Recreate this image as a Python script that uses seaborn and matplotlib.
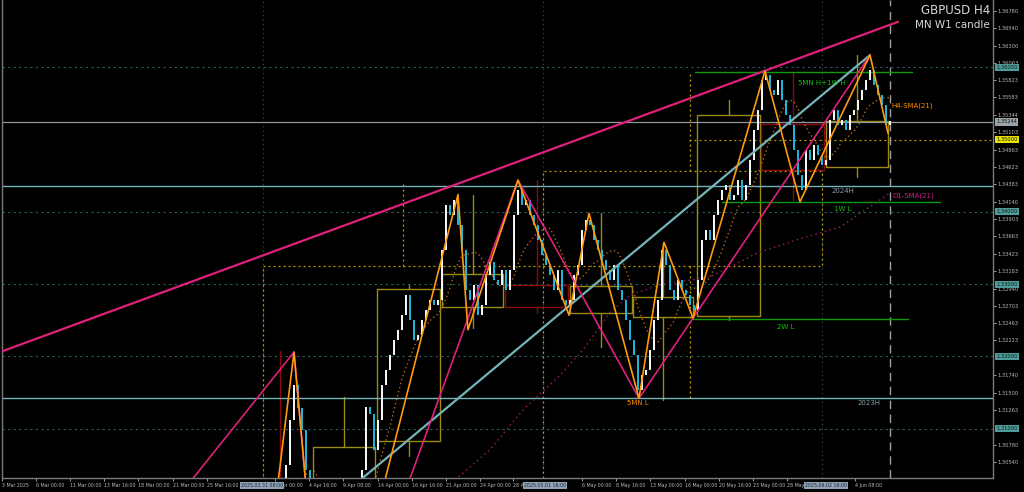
import numpy as np
import pandas as pd
import matplotlib
matplotlib.use('Agg')
import matplotlib.pyplot as plt
import matplotlib.transforms as mtransforms
import seaborn as sns

# ---------------- values ----------------
# x unit = one candle slot (2 H4 bars), price on y
first_slot = 67
first_open = 1.2920
closes = [
    1.2930, 1.2915, 1.2940, 1.2990, 1.3050, 1.3112, 1.3161, 1.3129, 1.3098, 1.3043,
    1.2960, 1.2930, 1.2860, 1.2790, 1.2820, 1.2760, 1.2850, 1.2900, 1.2950, 1.2990,
    1.3010, 1.2990, 1.3020, 1.3043, 1.3130, 1.3120, 1.3071, 1.3112, 1.3161, 1.3181,
    1.3202, 1.3223, 1.3237, 1.3257, 1.3285, 1.3250, 1.3223, 1.3230, 1.3250, 1.3264,
    1.3278, 1.3271, 1.3278, 1.3347, 1.3410, 1.3396, 1.3417, 1.3382, 1.3347, 1.3292,
    1.3278, 1.3299, 1.3257, 1.3271, 1.3313, 1.3331, 1.3306, 1.3299, 1.3320, 1.3292,
    1.3320, 1.3396, 1.3430, 1.3410, 1.3417, 1.3396, 1.3382, 1.3361, 1.3340, 1.3327,
    1.3313, 1.3292, 1.3320, 1.3278, 1.3271, 1.3278, 1.3313, 1.3327, 1.3375, 1.3389,
    1.3382, 1.3361, 1.3347, 1.3334, 1.3320, 1.3306, 1.3327, 1.3292, 1.3278, 1.3250,
    1.3223, 1.3202, 1.3154, 1.3174, 1.3181, 1.3209, 1.3250, 1.3278, 1.3347, 1.3327,
    1.3292, 1.3278, 1.3306, 1.3292, 1.3285, 1.3271, 1.3264, 1.3306, 1.3361, 1.3375,
    1.3361, 1.3396, 1.3417, 1.3430, 1.3437, 1.3417, 1.3424, 1.3444, 1.3417, 1.3437,
    1.3472, 1.3513, 1.3541, 1.3583, 1.3590, 1.3569, 1.3562, 1.3583, 1.3555, 1.3534,
    1.3520, 1.3486, 1.3451, 1.3430, 1.3486, 1.3472, 1.3493, 1.3479, 1.3465, 1.3472,
    1.3527, 1.3541, 1.3520, 1.3527, 1.3513, 1.3534, 1.3541, 1.3555, 1.3569, 1.3583,
    1.3596, 1.3576, 1.3562, 1.3548, 1.3520, 1.3526,
]

# zigzag pivots (slot, price)
zz_small_x = [66, 73, 81, 114, 116.5, 129, 141.75, 146.75, 159.25, 165.5, 172.75, 190.75, 199.5, 217, 221.5]
zz_small_y = [1.2890, 1.3206, 1.2710, 1.3424, 1.3237, 1.3444, 1.3257, 1.3398, 1.3142, 1.3358, 1.3253, 1.3595, 1.3414, 1.3617, 1.3509]
zz_big_x = [23, 73, 81, 129, 159.25, 217]
zz_big_y = [1.2860, 1.3206, 1.2710, 1.3444, 1.3142, 1.3617]

# trend lines
upper_tl_x = [-0.5, 224]
upper_tl_y = [1.3206, 1.3663]
channel_x = [85, 217]
channel_y = [1.3008, 1.3617]

# D1 SMA(21) as seen on the chart
d1_sma_x = [113.25, 122, 130.25, 139.5, 145.25, 152, 157, 164.5, 177, 188.75, 200.75, 209.5, 222]
d1_sma_y = [1.3029, 1.3071, 1.3126, 1.3174, 1.3209, 1.3261, 1.3285, 1.3299, 1.3310, 1.3343, 1.3365, 1.3379, 1.3426]

# weekly candles
wk_left = [61.75, 77.75, 93.75, 110, 125.75, 142, 157.75, 173.75, 189.75, 206]
wk_right = [77.25, 93.25, 109.5, 125.25, 141.5, 157.5, 172.75, 189.5, 205.5, 221.5]
wk_open = [1.2925, 1.2895, 1.3083, 1.3268, 1.3299, 1.3260, 1.3255, 1.3256, 1.3522, 1.3462]
wk_close = [1.2895, 1.3075, 1.3293, 1.3314, 1.3268, 1.3298, 1.3282, 1.3534, 1.3458, 1.3526]
wk_high = [1.3207, 1.3144, 1.3299, 1.3423, 1.3444, 1.3398, 1.3357, 1.3555, 1.3592, 1.3617]
wk_low = [1.2860, 1.2710, 1.3062, 1.3240, 1.3260, 1.3213, 1.3140, 1.3250, 1.3417, 1.3448]

# monthly candles
mn_left = [65.25, 135.25]
mn_right = [135.25, 205]
mn_open = [1.2915, 1.3325]
mn_close = [1.3325, 1.3457]
mn_high = [1.3443, 1.3595]
mn_low = [1.2710, 1.3142]
mn_wick = [100.25, 172]

# levels
round_levels = [1.36, 1.34, 1.33, 1.32, 1.31]
year_highs = [1.3436, 1.3142]
bid = 1.35244
level_135 = 1.3500
level_135_from = 171.75
month_seps = [65.25, 135.25, 205]
now_slot = 222

# short level segments: (start, end, price)
seg_start = [173.25, 180, 172.75]
seg_end = [227.5, 234.5, 226.5]
seg_price = [1.3594, 1.3414, 1.3252]

# text labels
lbl_text = ['5MN H+1W H', '1W L', '2W L', '2024H', '2023H', '5MN L', 'H4-SMA(21)', 'D1-SMA(21)']
lbl_x = [205, 210.25, 196, 210.25, 216.75, 159, 222.25, 222.5]
lbl_y = [1.3578, 1.3404, 1.3241, 1.3429, 1.3136, 1.3135, 1.3547, 1.3423]

# axis ticks
price_ticks = [1.36780, 1.36540, 1.36300, 1.36063, 1.35823, 1.35583, 1.35344, 1.35103,
               1.34863, 1.34623, 1.34383, 1.34140, 1.33903, 1.33663, 1.33423, 1.33183,
               1.32940, 1.32703, 1.32463, 1.32223, 1.31740, 1.31500, 1.31263, 1.30780, 1.30540]
date_ticks = [0, 8.5, 17, 25.5, 34, 42.75, 51.25, 68.25, 76.75, 85.25, 94, 102.5, 111, 119.5,
              127.75, 145, 153.5, 162, 170.75, 179.25, 187.75, 196.25, 213.25]
date_labels = ['3 Mar 2025', '6 Mar 00:00', '11 Mar 00:00', '13 Mar 16:00', '18 Mar 00:00',
               '21 Mar 00:00', '25 Mar 16:00', '1 Apr 00:00', '4 Apr 16:00', '9 Apr 08:00',
               '14 Apr 00:00', '16 Apr 16:00', '21 Apr 00:00', '24 Apr 00:00', '28 Apr 16:00',
               '6 May 00:00', '8 May 16:00', '13 May 00:00', '16 May 00:00', '20 May 16:00',
               '23 May 00:00', '28 May 08:00', '4 Jun 08:00']
date_marks = [59.75, 130.5, 200.75]
date_mark_text = ['2025.03.31 08:00', '2025.05.01 16:00', '2025.06.02 16:00']
price_marks = [1.36000, 1.35244, 1.35000, 1.34000, 1.33000, 1.32000, 1.31000]
price_mark_bg = ['#4f9a9a', '#9aa4a8', '#e8e000', '#4f9a9a', '#4f9a9a', '#4f9a9a', '#4f9a9a']

# ---------------- drawing ----------------
sns.set_theme(style='dark', rc={'axes.facecolor': 'black', 'figure.facecolor': 'black',
                                'axes.edgecolor': '#7a7a7a', 'axes.grid': False})
plt.rcParams['font.family'] = ['DejaVu Sans']

fig = plt.figure(figsize=(10.24, 4.92), dpi=100)
ax = fig.add_axes([2 / 1024, 14 / 492, 991 / 1024, 478 / 492])
ax.set_facecolor('black')
ax.set_xlim(0, 247.75)
ax.set_ylim(1.30318, 1.36932)

OLIVE = '#9c8a12'
DRED = '#8b0a0a'
GOLD = '#c8a400'
TEAL = '#74b4b8'
DOT = (0, (1.5, 2.5))

# round number levels and month separators
for lv in round_levels:
    ax.axhline(lv, color='#2f5d60', lw=0.8, ls=(0, (2, 3)), zorder=1)
for s in month_seps:
    ax.axvline(s, color='#3a5060', lw=0.8, ls=(0, (1, 3)), zorder=1)

# monthly candles (dotted)
for l, r, o, c, h, lo, w in zip(mn_left, mn_right, mn_open, mn_close, mn_high, mn_low, mn_wick):
    top, bot = max(o, c), min(o, c)
    ax.plot([l, r, r, l, l], [bot, bot, top, top, bot], color=GOLD, lw=0.9, ls=DOT, zorder=2)
    ax.plot([w, w], [top, h], color=GOLD, lw=0.9, ls=DOT, zorder=2)
    ax.plot([w, w], [bot, lo], color=GOLD, lw=0.9, ls=DOT, zorder=2)
ax.plot([level_135_from, 247.75], [level_135, level_135], color=GOLD, lw=0.9, ls=DOT, zorder=2)

# weekly candles
for l, r, o, c, h, lo in zip(wk_left, wk_right, wk_open, wk_close, wk_high, wk_low):
    col = OLIVE if c >= o else DRED
    top, bot = max(o, c), min(o, c)
    m = (l + r) / 2
    ax.plot([l, r, r, l, l], [bot, bot, top, top, bot], color=col, lw=1.0, zorder=2)
    ax.plot([m, m], [top, h], color=col, lw=1.0, zorder=2)
    ax.plot([m, m], [bot, lo], color=col, lw=1.0, zorder=2)

# year highs, bid and current bar marker
for yh in year_highs:
    ax.axhline(yh, color=TEAL, lw=1.0, zorder=2)
ax.axhline(bid, color='#8e9a9e', lw=0.9, zorder=2)
ax.axvline(now_slot, color='#a0a0a0', lw=1.0, ls=(0, (6, 4)), zorder=2)

for s, e, p in zip(seg_start, seg_end, seg_price):
    ax.plot([s, e], [p, p], color='#0a9a0a', lw=1.0, zorder=2)

# candles
df = pd.DataFrame({'slot': np.arange(first_slot, first_slot + len(closes)), 'close': closes})
df['open'] = df['close'].shift(1).fillna(first_open)
df['bottom'] = df[['open', 'close']].min(axis=1)
df['height'] = (df['close'] - df['open']).abs().clip(lower=0.00012)
df['color'] = np.where(df['close'] >= df['open'], '#f4f4f4', '#1cb4d8')
df['sma'] = df['close'].rolling(10).mean()

ax.plot(df['slot'], df['sma'], color='#b5661a', lw=1.0, ls=(0, (1, 2)), zorder=3)
ax.plot(d1_sma_x, d1_sma_y, color='#a0206a', lw=1.0, ls=(0, (1, 2.5)), zorder=3)

ax.bar(df['slot'], df['height'], bottom=df['bottom'], width=0.6, color=df['color'],
       edgecolor='none', zorder=4)

# trend lines and zigzags
sns.lineplot(x=channel_x, y=channel_y, ax=ax, color=TEAL, lw=1.6, zorder=5)
sns.lineplot(x=upper_tl_x, y=upper_tl_y, ax=ax, color='#e0207a', lw=1.6, zorder=5)
sns.lineplot(x=zz_big_x, y=zz_big_y, ax=ax, color='#e0207a', lw=1.2, sort=False, zorder=5)
sns.lineplot(x=zz_small_x, y=zz_small_y, ax=ax, color='#ff9a10', lw=1.2, sort=False, zorder=6)

# labels
lbl_col = ['#10c010', '#10c010', '#10c010', '#8aa0a8', '#8aa0a8', '#ff8c00', '#ff8c00', '#d0208a']
for t, x, y, c in zip(lbl_text, lbl_x, lbl_y, lbl_col):
    ha = 'left' if 'SMA' in t else 'center'
    ax.text(x, y, t, color=c, fontsize=5.0, ha=ha, va='center', zorder=8)

fig.text(990 / 1024, 1 - 11 / 492, 'GBPUSD H4', color='#d8d8d8', fontsize=8.5, ha='right', va='center')
fig.text(990 / 1024, 1 - 25 / 492, 'MN W1 candle', color='#d8d8d8', fontsize=7.5, ha='right', va='center')

# axes
ax.yaxis.tick_right()
ax.set_yticks(price_ticks)
ax.set_yticklabels([f'{p:.5f}' for p in price_ticks])
ax.set_xticks(date_ticks)
ax.set_xticklabels(date_labels)
ax.tick_params(axis='y', colors='#b8b8b8', labelsize=3.7, length=2, width=0.6, pad=1, right=True, left=False)
ax.tick_params(axis='x', colors='#b8b8b8', labelsize=3.4, length=2, width=0.6, pad=1.5, bottom=True)
for t in ax.get_xticklabels():
    t.set_ha('left')
ax.set_xlabel('')
ax.set_ylabel('')
for side in ['left', 'bottom', 'right']:
    ax.spines[side].set_color('#7a7a7a')
    ax.spines[side].set_linewidth(1.0)
ax.spines['top'].set_visible(False)

tb = mtransforms.blended_transform_factory(ax.transData, ax.transAxes)
for x, t in zip(date_marks, date_mark_text):
    ax.text(x, -0.011, t, transform=tb, fontsize=3.4, color='#1a2430', ha='left', va='top',
            bbox=dict(boxstyle='square,pad=0.2', fc='#8fa2b8', ec='none'), zorder=10, clip_on=False)
tr = mtransforms.blended_transform_factory(ax.transAxes, ax.transData)
for p, bg in zip(price_marks, price_mark_bg):
    ax.text(1.0035, p, f'{p:.5f}', transform=tr, fontsize=3.7, color='#10181a', ha='left', va='center',
            bbox=dict(boxstyle='square,pad=0.2', fc=bg, ec='none'), zorder=10, clip_on=False)

fig.savefig('out.png', dpi=100, facecolor='black')
